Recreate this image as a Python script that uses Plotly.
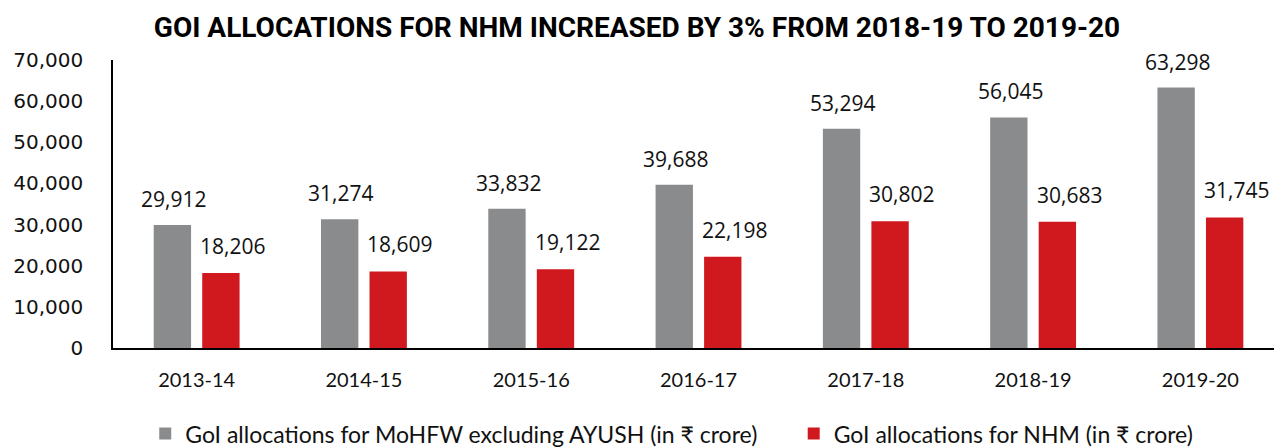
import plotly.graph_objects as go

years = ["2013-14", "2014-15", "2015-16", "2016-17", "2017-18", "2018-19", "2019-20"]
mohfw = [29912, 31274, 33832, 39688, 53294, 56045, 63298]
nhm = [18206, 18609, 19122, 22198, 30802, 30683, 31745]
y_ticks = [0, 10000, 20000, 30000, 40000, 50000, 60000, 70000]

name_mohfw = "GoI allocations for MoHFW excluding AYUSH (in ₹ crore)"
name_nhm = "GoI allocations for NHM (in ₹ crore)"
GRAY = "#8a8b8d"
RED = "#d0191f"

fig = go.Figure()
fig.add_trace(go.Bar(x=years, y=mohfw, name=name_mohfw, legend="legend",
                     marker=dict(color=GRAY, line=dict(width=0))))
fig.add_trace(go.Bar(x=years, y=nhm, name=name_nhm, legend="legend2",
                     marker=dict(color=RED, line=dict(width=0))))

label_font = dict(family="Open Sans, sans-serif", size=21, color="#111111")
anns = []
for yr, v in zip(years, mohfw):
    anns.append(dict(x=yr, y=v, xref="x", yref="y", text=f"{v:,}", showarrow=False,
                     yanchor="bottom", xanchor="center", xshift=-23, yshift=10, font=label_font))
for yr, v in zip(years, nhm):
    anns.append(dict(x=yr, y=v, xref="x", yref="y", text=f"{v:,}", showarrow=False,
                     yanchor="bottom", xanchor="center", xshift=36, yshift=11, font=label_font))

legend_font = dict(family="Lato, Noto Sans, sans-serif", size=23, color="#111111")

fig.update_layout(
    width=1274, height=447,
    margin=dict(l=113, r=0, t=60, b=99, autoexpand=False),
    paper_bgcolor="white", plot_bgcolor="white",
    barmode="group", bargap=0.42, bargroupgap=0.23,
    title=dict(text="<b>GOI ALLOCATIONS FOR NHM INCREASED BY 3% FROM 2018-19 TO 2019-20</b>",
               x=0.5, xanchor="center", y=0.94, yref="container", yanchor="middle",
               font=dict(family="Roboto, sans-serif", size=28, color="#000000")),
    xaxis=dict(range=[-0.5, 6.44], showline=True, linecolor="#000000", linewidth=2,
               ticks="", showgrid=False, zeroline=False, automargin=False,
               tickfont=dict(family="Lato, sans-serif", size=20, color="#111111"),
               ticklabelstandoff=13),
    yaxis=dict(range=[0, 70000], tickvals=y_ticks, tickformat=",", showline=True,
               linecolor="#000000", linewidth=1.5, ticks="", showgrid=False, zeroline=False,
               automargin=False,
               tickfont=dict(family="DejaVu Sans, sans-serif", size=20, color="#111111"),
               ticklabelstandoff=24),
    legend=dict(orientation="h", x=0.114, xref="container", xanchor="left",
                y=0.03, yref="container", yanchor="middle", font=legend_font, itemwidth=30),
    legend2=dict(orientation="h", x=0.623, xref="container", xanchor="left",
                 y=0.03, yref="container", yanchor="middle", font=legend_font, itemwidth=30),
    annotations=anns,
    showlegend=True,
)

fig.write_html("out.html", config={"displayModeBar": False},
               post_script="document.body.style.margin='0';")
